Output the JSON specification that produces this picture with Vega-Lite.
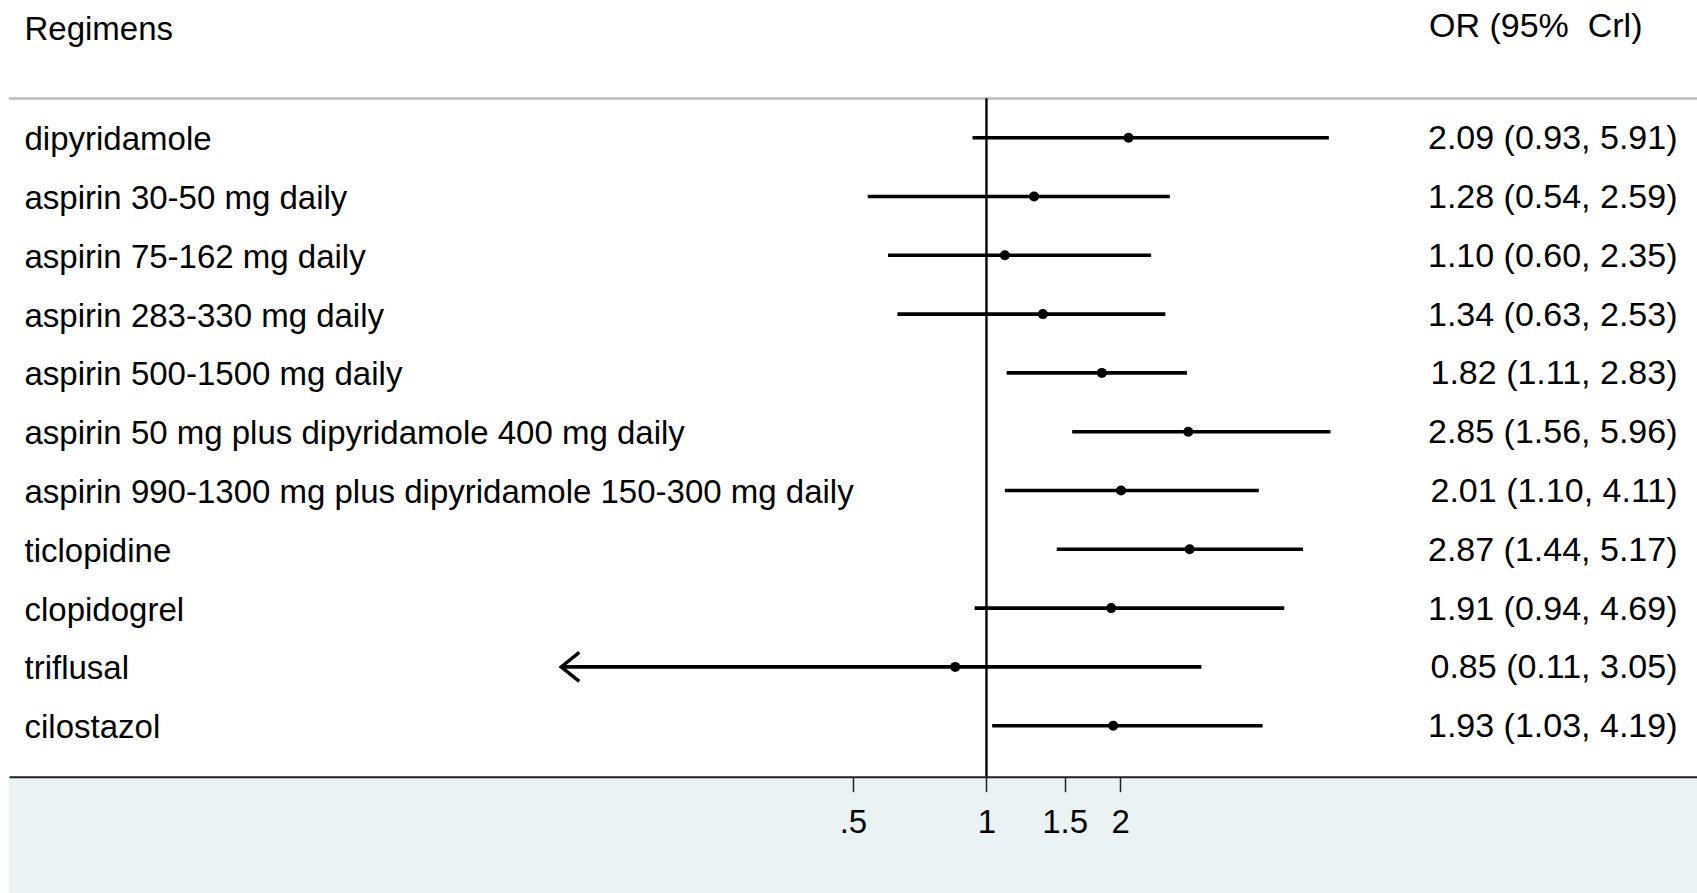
{
  "$schema": "https://vega.github.io/schema/vega-lite/v6.json",
  "width": 1688,
  "height": 893,
  "autosize": {"type": "none"},
  "padding": {"left": 9, "top": 0, "right": 0, "bottom": 0},
  "background": "white",
  "config": {
    "view": {"stroke": null},
    "font": "Liberation Sans",
    "axis": {"labelFont": "Liberation Sans", "titleFont": "Liberation Sans", "labelColor": "#000", "titleColor": "#000", "labelFontSize": 33, "titleFontSize": 33, "titleFontWeight": "normal"}
  },
  "data": {
    "values": [
      {"regimen": "dipyridamole", "or": 2.09, "lo": 0.93, "hi": 5.91, "ci_text": "2.09 (0.93, 5.91)", "truncated": false},
      {"regimen": "aspirin 30-50 mg daily", "or": 1.28, "lo": 0.54, "hi": 2.59, "ci_text": "1.28 (0.54, 2.59)", "truncated": false},
      {"regimen": "aspirin 75-162 mg daily", "or": 1.10, "lo": 0.60, "hi": 2.35, "ci_text": "1.10 (0.60, 2.35)", "truncated": false},
      {"regimen": "aspirin 283-330 mg daily", "or": 1.34, "lo": 0.63, "hi": 2.53, "ci_text": "1.34 (0.63, 2.53)", "truncated": false},
      {"regimen": "aspirin 500-1500 mg daily", "or": 1.82, "lo": 1.11, "hi": 2.83, "ci_text": "1.82 (1.11, 2.83)", "truncated": false},
      {"regimen": "aspirin 50 mg plus dipyridamole 400 mg daily", "or": 2.85, "lo": 1.56, "hi": 5.96, "ci_text": "2.85 (1.56, 5.96)", "truncated": false},
      {"regimen": "aspirin 990-1300 mg plus dipyridamole 150-300 mg daily", "or": 2.01, "lo": 1.10, "hi": 4.11, "ci_text": "2.01 (1.10, 4.11)", "truncated": false},
      {"regimen": "ticlopidine", "or": 2.87, "lo": 1.44, "hi": 5.17, "ci_text": "2.87 (1.44, 5.17)", "truncated": false},
      {"regimen": "clopidogrel", "or": 1.91, "lo": 0.94, "hi": 4.69, "ci_text": "1.91 (0.94, 4.69)", "truncated": false},
      {"regimen": "triflusal", "or": 0.85, "lo": 0.11, "hi": 3.05, "ci_text": "0.85 (0.11, 3.05)", "truncated": true},
      {"regimen": "cilostazol", "or": 1.93, "lo": 1.03, "hi": 4.19, "ci_text": "1.93 (1.03, 4.19)", "truncated": false}
    ]
  },
  "resolve": {"scale": {"y": "independent"}, "axis": {"y": "independent"}},
  "layer": [
    {
      "layer": [
        {
          "mark": {"type": "rect", "color": "#EAF2F3"},
          "encoding": {
            "y": {"datum": 11.867, "type": "quantitative", "scale": {"domain": [-1.3418, 13.845], "reverse": true, "nice": false, "zero": false}, "axis": null},
            "y2": {"datum": 13.845}
          }
        },
        {
          "mark": {"type": "rule", "color": "#c4c4c4", "strokeWidth": 2.5},
          "encoding": {
            "y": {"datum": 0.3333, "type": "quantitative", "scale": {"domain": [-1.3418, 13.845], "reverse": true, "nice": false, "zero": false}, "axis": null}
          }
        },
        {
          "mark": {"type": "rule", "color": "#000", "strokeWidth": 1.2},
          "encoding": {
            "x": {
              "datum": 1, "type": "quantitative", "title": null,
              "scale": {"type": "log", "domain": [0.006266, 39.93], "nice": false, "zero": false},
              "axis": {
                "orient": "bottom", "offset": -116.3, "values": [0.5, 1, 1.5, 2], "format": "~g",
                "labelExpr": "datum.value < 1 ? substring(datum.label, 1) : datum.label",
                "title": null, "domain": true, "domainColor": "#222", "domainWidth": 2,
                "ticks": true, "tickSize": 15, "tickColor": "#222", "tickWidth": 1.5,
                "labelFontSize": 33, "labelColor": "#000", "labelBaseline": "alphabetic", "labelPadding": 41,
                "labelFlush": false, "labelOverlap": false, "grid": false, "zindex": 1
              }
            },
            "y": {"datum": 0.3333, "type": "quantitative", "scale": {"domain": [-1.3418, 13.845], "reverse": true, "nice": false, "zero": false}, "axis": null},
            "y2": {"datum": 11.867}
          }
        }
      ]
    },
    {
      "encoding": {
        "y": {
          "field": "regimen", "type": "nominal", "sort": null,
          "scale": {"type": "point", "range": [137.7, 725.7], "padding": 0, "round": false},
          "axis": {
            "orient": "left", "title": "Regimens", "titleAngle": 0, "titleAlign": "left", "titleBaseline": "alphabetic",
            "titleX": 15, "titleY": 39, "titleFontWeight": "normal", "titleFontSize": 33, "titleColor": "#000",
            "labelAlign": "left", "labelBaseline": "alphabetic", "labelOffset": 12, "labelPadding": -15,
            "labelLimit": 3000, "labelFontSize": 33, "labelColor": "#000", "labelOverlap": false, "labelBound": false,
            "domain": false, "ticks": false, "grid": false, "zindex": 1
          }
        }
      },
      "layer": [
        {
          "mark": {"type": "rule", "strokeWidth": 3.6, "color": "#000"},
          "encoding": {
            "x": {
              "field": "lo", "type": "quantitative", "title": null,
              "scale": {"type": "log", "domain": [0.006266, 39.93], "nice": false, "zero": false},
              "axis": {
                "orient": "bottom", "offset": -116.3, "values": [0.5, 1, 1.5, 2], "format": "~g",
                "labelExpr": "datum.value < 1 ? substring(datum.label, 1) : datum.label",
                "title": null, "domain": true, "domainColor": "#222", "domainWidth": 2,
                "ticks": true, "tickSize": 15, "tickColor": "#222", "tickWidth": 1.5,
                "labelFontSize": 33, "labelColor": "#000", "labelBaseline": "alphabetic", "labelPadding": 41,
                "labelFlush": false, "labelOverlap": false, "grid": false, "zindex": 1
              }
            },
            "x2": {"field": "hi"}
          }
        },
        {
          "mark": {"type": "point", "shape": "M1.25,-1L0,0L1.25,1", "filled": false, "size": 841, "strokeWidth": 3.4, "color": "#000"},
          "encoding": {
            "x": {
              "field": "lo", "type": "quantitative", "title": null,
              "scale": {"type": "log", "domain": [0.006266, 39.93], "nice": false, "zero": false},
              "axis": {
                "orient": "bottom", "offset": -116.3, "values": [0.5, 1, 1.5, 2], "format": "~g",
                "labelExpr": "datum.value < 1 ? substring(datum.label, 1) : datum.label",
                "title": null, "domain": true, "domainColor": "#222", "domainWidth": 2,
                "ticks": true, "tickSize": 15, "tickColor": "#222", "tickWidth": 1.5,
                "labelFontSize": 33, "labelColor": "#000", "labelBaseline": "alphabetic", "labelPadding": 41,
                "labelFlush": false, "labelOverlap": false, "grid": false, "zindex": 1
              }
            },
            "opacity": {"condition": {"test": "datum.truncated", "value": 1}, "value": 0}
          }
        }
      ]
    },
    {
      "mark": {"type": "point", "filled": true, "shape": "circle", "size": 100, "color": "#000", "opacity": 1},
      "encoding": {
        "x": {
          "field": "or", "type": "quantitative", "title": null,
          "scale": {"type": "log", "domain": [0.006266, 39.93], "nice": false, "zero": false},
          "axis": {
            "orient": "bottom", "offset": -116.3, "values": [0.5, 1, 1.5, 2], "format": "~g",
            "labelExpr": "datum.value < 1 ? substring(datum.label, 1) : datum.label",
            "title": null, "domain": true, "domainColor": "#222", "domainWidth": 2,
            "ticks": true, "tickSize": 15, "tickColor": "#222", "tickWidth": 1.5,
            "labelFontSize": 33, "labelColor": "#000", "labelBaseline": "alphabetic", "labelPadding": 41,
            "labelFlush": false, "labelOverlap": false, "grid": false, "zindex": 1
          }
        },
        "y": {
          "field": "ci_text", "type": "nominal", "sort": null,
          "scale": {"type": "point", "range": [137.7, 725.7], "padding": 0, "round": false},
          "axis": {
            "orient": "right", "title": "OR (95%\u00a0 Crl)", "titleAngle": 0, "titleAlign": "left", "titleBaseline": "alphabetic",
            "titleX": -268.5, "titleY": 36, "titleFontWeight": "normal", "titleFontSize": 34, "titleColor": "#000",
            "labelAlign": "right", "labelBaseline": "alphabetic", "labelOffset": 11, "labelPadding": -20,
            "labelLimit": 3000, "labelFontSize": 34, "labelColor": "#000", "labelOverlap": false, "labelBound": false,
            "domain": false, "ticks": false, "grid": false, "zindex": 1
          }
        }
      }
    }
  ]
}
